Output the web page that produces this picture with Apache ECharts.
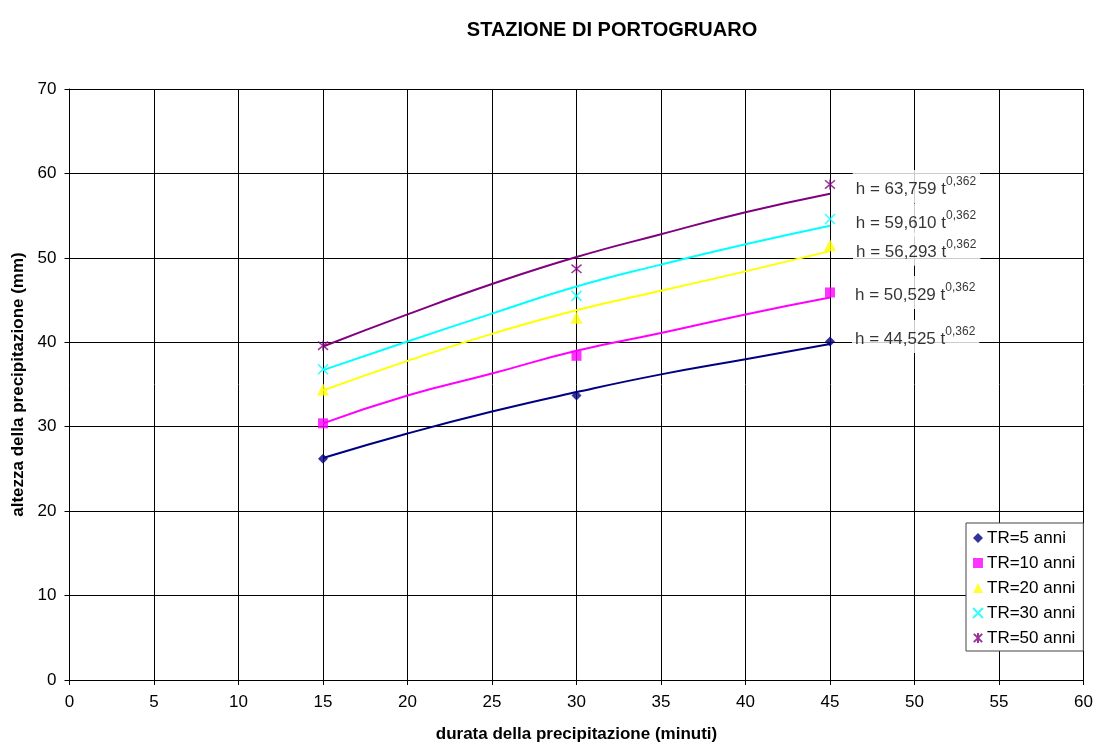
<!DOCTYPE html>
<html>
<head>
<meta charset="utf-8">
<script src="https://cdn.jsdelivr.net/npm/echarts@6/dist/echarts.min.js"></script>
<style>html,body{margin:0;padding:0;background:#fff}#c{width:1095px;height:744px}</style>
</head>
<body>
<div id="c"></div>
<script>
// ---- data ----
const durations = [15, 30, 45];
const seriesNames = ['TR=5 anni', 'TR=10 anni', 'TR=20 anni', 'TR=30 anni', 'TR=50 anni'];
const tr5  = [26.2, 33.7, 40.1];
const tr10 = [30.4, 38.4, 45.9];
const tr20 = [34.4, 42.9, 51.5];
const tr30 = [36.8, 45.5, 54.6];
const tr50 = [39.6, 48.7, 58.7];

// trend curves at these durations
const trendX   = [15, 20, 25, 30, 35, 40, 45];
const trend5   = [26.3, 29.2, 31.8, 34.1, 36.2, 38.0, 39.8];
const trend10  = [30.4, 33.7, 36.3, 39.0, 41.1, 43.3, 45.3];
const trend20  = [34.3, 37.8, 41.0, 43.8, 46.1, 48.4, 50.8];
const trend30  = [36.7, 40.1, 43.4, 46.6, 49.2, 51.6, 53.8];
const trend50  = [39.5, 43.3, 46.9, 50.1, 52.8, 55.4, 57.6];

// equation labels
const eqCoeffs = ['44,525', '50,529', '56,293', '59,610', '63,759'];
const eqExponent = '0,362';

const xTicks = [0, 5, 10, 15, 20, 25, 30, 35, 40, 45, 50, 55, 60];
const yTicks = [0, 10, 20, 30, 40, 50, 60, 70];

// ---- styling ----
const FONT = '"Liberation Sans", Arial, sans-serif';
const colors = ['#000080', '#FF00FF', '#FFFF00', '#00FFFF', '#800080'];
const symbols = [
  'diamond',
  'rect',
  'triangle',
  'path://M0,0L10,10M10,0L0,10',
  'path://M0,0L10,10M10,0L0,10M5,-1L5,11'
];
const symbolSizes = [10, 10, 12, 10, 10];
const labelOffsets = [[0, -5], [0, 0], [0, 4], [0, 1], [0, 2]];

const points = [tr5, tr10, tr20, tr30, tr50];
const trends = [trend5, trend10, trend20, trend30, trend50];

const series = [];
trends.forEach((t, i) => {
  series.push({
    type: 'line',
    name: 'trend' + i,
    data: trendX.map((x, k) => [x, t[k]]),
    smooth: true,
    showSymbol: false,
    symbol: 'none',
    lineStyle: { color: colors[i], width: 2 },
    silent: true,
    z: 3
  });
});
points.forEach((p, i) => {
  const isPath = symbols[i].startsWith('path://');
  series.push({
    type: 'scatter',
    name: seriesNames[i],
    symbol: symbols[i],
    symbolSize: symbolSizes[i],
    itemStyle: isPath
      ? { color: colors[i], borderColor: colors[i], borderWidth: 1.5 }
      : { color: colors[i] },
    data: durations.map((x, k) => {
      const d = { value: [x, p[k]] };
      if (k === durations.length - 1) {
        d.label = {
          show: true,
          position: 'right',
          distance: 17,
          offset: labelOffsets[i],
          formatter: '{b|h = ' + eqCoeffs[i] + ' t}{s|' + eqExponent + '}',
          backgroundColor: '#fff',
          padding: [6, 4, 5, 3],
          rich: {
            b: { fontFamily: FONT, fontSize: 17, color: '#000', lineHeight: 22, verticalAlign: 'bottom' },
            s: { fontFamily: FONT, fontSize: 12, color: '#000', lineHeight: 22, verticalAlign: 'top' }
          }
        };
      }
      return d;
    }),
    z: 5
  });
});

const chart = echarts.init(document.getElementById('c'), null, { renderer: 'canvas' });
chart.setOption({
  animation: false,
  backgroundColor: '#fff',
  textStyle: { fontFamily: FONT },
  title: {
    text: 'STAZIONE DI PORTOGRUARO',
    left: 607,
    textAlign: 'center',
    top: 15,
    textStyle: { fontFamily: FONT, fontSize: 20, fontWeight: 'bold', color: '#000' }
  },
  legend: {
    data: seriesNames,
    orient: 'vertical',
    left: 966,
    top: 523,
    padding: [5, 8, 3, 6],
    itemWidth: 10,
    itemHeight: 10,
    itemGap: 5,
    backgroundColor: '#fff',
    borderColor: '#444',
    borderWidth: 1,
    textStyle: { fontFamily: FONT, fontSize: 17, lineHeight: 20, color: '#000', padding: [0, 0, 0, -1] },
    z: 10
  },
  grid: { left: 69.5, right: 11.5, top: 89, bottom: 64, containLabel: false, outerBoundsMode: 'none' },
  xAxis: {
    type: 'value',
    min: xTicks[0],
    max: xTicks[xTicks.length - 1],
    interval: xTicks[1] - xTicks[0],
    name: 'durata della precipitazione (minuti)',
    nameLocation: 'middle',
    nameGap: 46,
    nameTextStyle: { fontFamily: FONT, fontSize: 17, fontWeight: 'bold', color: '#000' },
    axisLine: { show: true, lineStyle: { color: '#000', width: 1 } },
    axisTick: { show: true, length: 5, lineStyle: { color: '#000' } },
    axisLabel: { fontFamily: FONT, fontSize: 17, color: '#000', margin: 14 },
    splitLine: { show: true, lineStyle: { color: '#000', width: 1 } }
  },
  yAxis: {
    type: 'value',
    min: yTicks[0],
    max: yTicks[yTicks.length - 1],
    interval: yTicks[1] - yTicks[0],
    name: 'altezza della precipitazione (mm)',
    nameLocation: 'middle',
    nameGap: 36,
    nameTextStyle: { fontFamily: FONT, fontSize: 17, fontWeight: 'bold', color: '#000' },
    axisLine: { show: true, lineStyle: { color: '#000', width: 1 } },
    axisTick: { show: true, length: 5, lineStyle: { color: '#000' } },
    axisLabel: { fontFamily: FONT, fontSize: 17, color: '#000', margin: 13 },
    splitLine: { show: true, lineStyle: { color: '#000', width: 1 } }
  },
  series: series
});
</script>
</body>
</html>
